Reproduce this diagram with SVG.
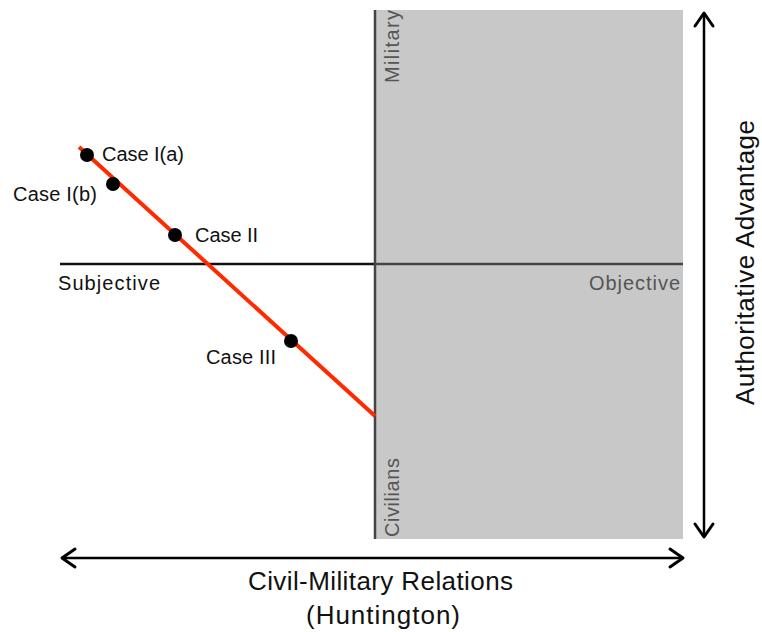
<svg xmlns="http://www.w3.org/2000/svg" width="762" height="632" viewBox="0 0 762 632">
  <defs>
    <style>
      text { font-family: "Liberation Sans", Arial, sans-serif; fill: #111; }
      .lbl { font-size: 20px; }
      .big { font-size: 26px; }
      .muted { fill: #555; }
      .axis { stroke: #111; stroke-width: 2.5; fill: none; }
      .grayaxis { stroke: #444; stroke-width: 2.5; fill: none; }
      .arrow { stroke: #000; stroke-width: 2.5; fill: none; }
      .head { stroke: #000; stroke-width: 3; fill: none; stroke-linecap: round; stroke-linejoin: round; }
      .trend { stroke: #ff2a00; stroke-width: 4; fill: none; }
      .dot { fill: #000; }
    </style>
  </defs>

  <!-- objective (civilian-controlled) region -->
  <g id="objective-region">
    <rect x="374" y="10" width="309" height="529" fill="#c8c8c8"/>
  </g>

  <!-- axes -->
  <g id="axes">
    <line class="axis" x1="60" y1="264" x2="374" y2="264"/>
    <line class="grayaxis" x1="374" y1="264" x2="683" y2="264"/>
    <line class="grayaxis" x1="375" y1="10" x2="375" y2="539"/>
  </g>

  <g id="axis-labels">
    <text class="lbl" x="58" y="290" textLength="102">Subjective</text>
    <text class="lbl muted" x="589" y="290" textLength="91">Objective</text>
    <text class="lbl muted" transform="translate(399,83) rotate(-90)" textLength="73">Military</text>
    <text class="lbl muted" transform="translate(399,537) rotate(-90)" textLength="79">Civilians</text>
  </g>

  <!-- connectors: trend line and outer double arrows -->
  <g id="connectors">
    <line class="trend" x1="79" y1="147" x2="375" y2="416"/>
    <line class="arrow" x1="704" y1="13" x2="704" y2="537"/>
    <polyline class="head" points="695,26 704,13 713,26"/>
    <polyline class="head" points="695,524 704,537 713,524"/>
    <line class="arrow" x1="63" y1="558" x2="682" y2="558"/>
    <polyline class="head" points="75,549 62,558 75,567"/>
    <polyline class="head" points="670,549 683,558 670,567"/>
  </g>

  <g id="case-1a">
    <circle class="dot" cx="87" cy="155" r="7"/>
    <text class="lbl" x="102" y="161" textLength="82">Case I(a)</text>
  </g>
  <g id="case-1b">
    <circle class="dot" cx="113" cy="184" r="7"/>
    <text class="lbl" x="13" y="201" textLength="84">Case I(b)</text>
  </g>
  <g id="case-2">
    <circle class="dot" cx="175" cy="235" r="7"/>
    <text class="lbl" x="195" y="242" textLength="63">Case II</text>
  </g>
  <g id="case-3">
    <circle class="dot" cx="291" cy="341" r="7"/>
    <text class="lbl" x="206" y="364" textLength="70">Case III</text>
  </g>

  <g id="titles">
    <text class="big" x="248" y="590" textLength="265">Civil-Military Relations</text>
    <text class="big" x="306" y="624" textLength="154">(Huntington)</text>
    <text class="big" transform="translate(754,405) rotate(-90)" textLength="285">Authoritative Advantage</text>
  </g>
</svg>
